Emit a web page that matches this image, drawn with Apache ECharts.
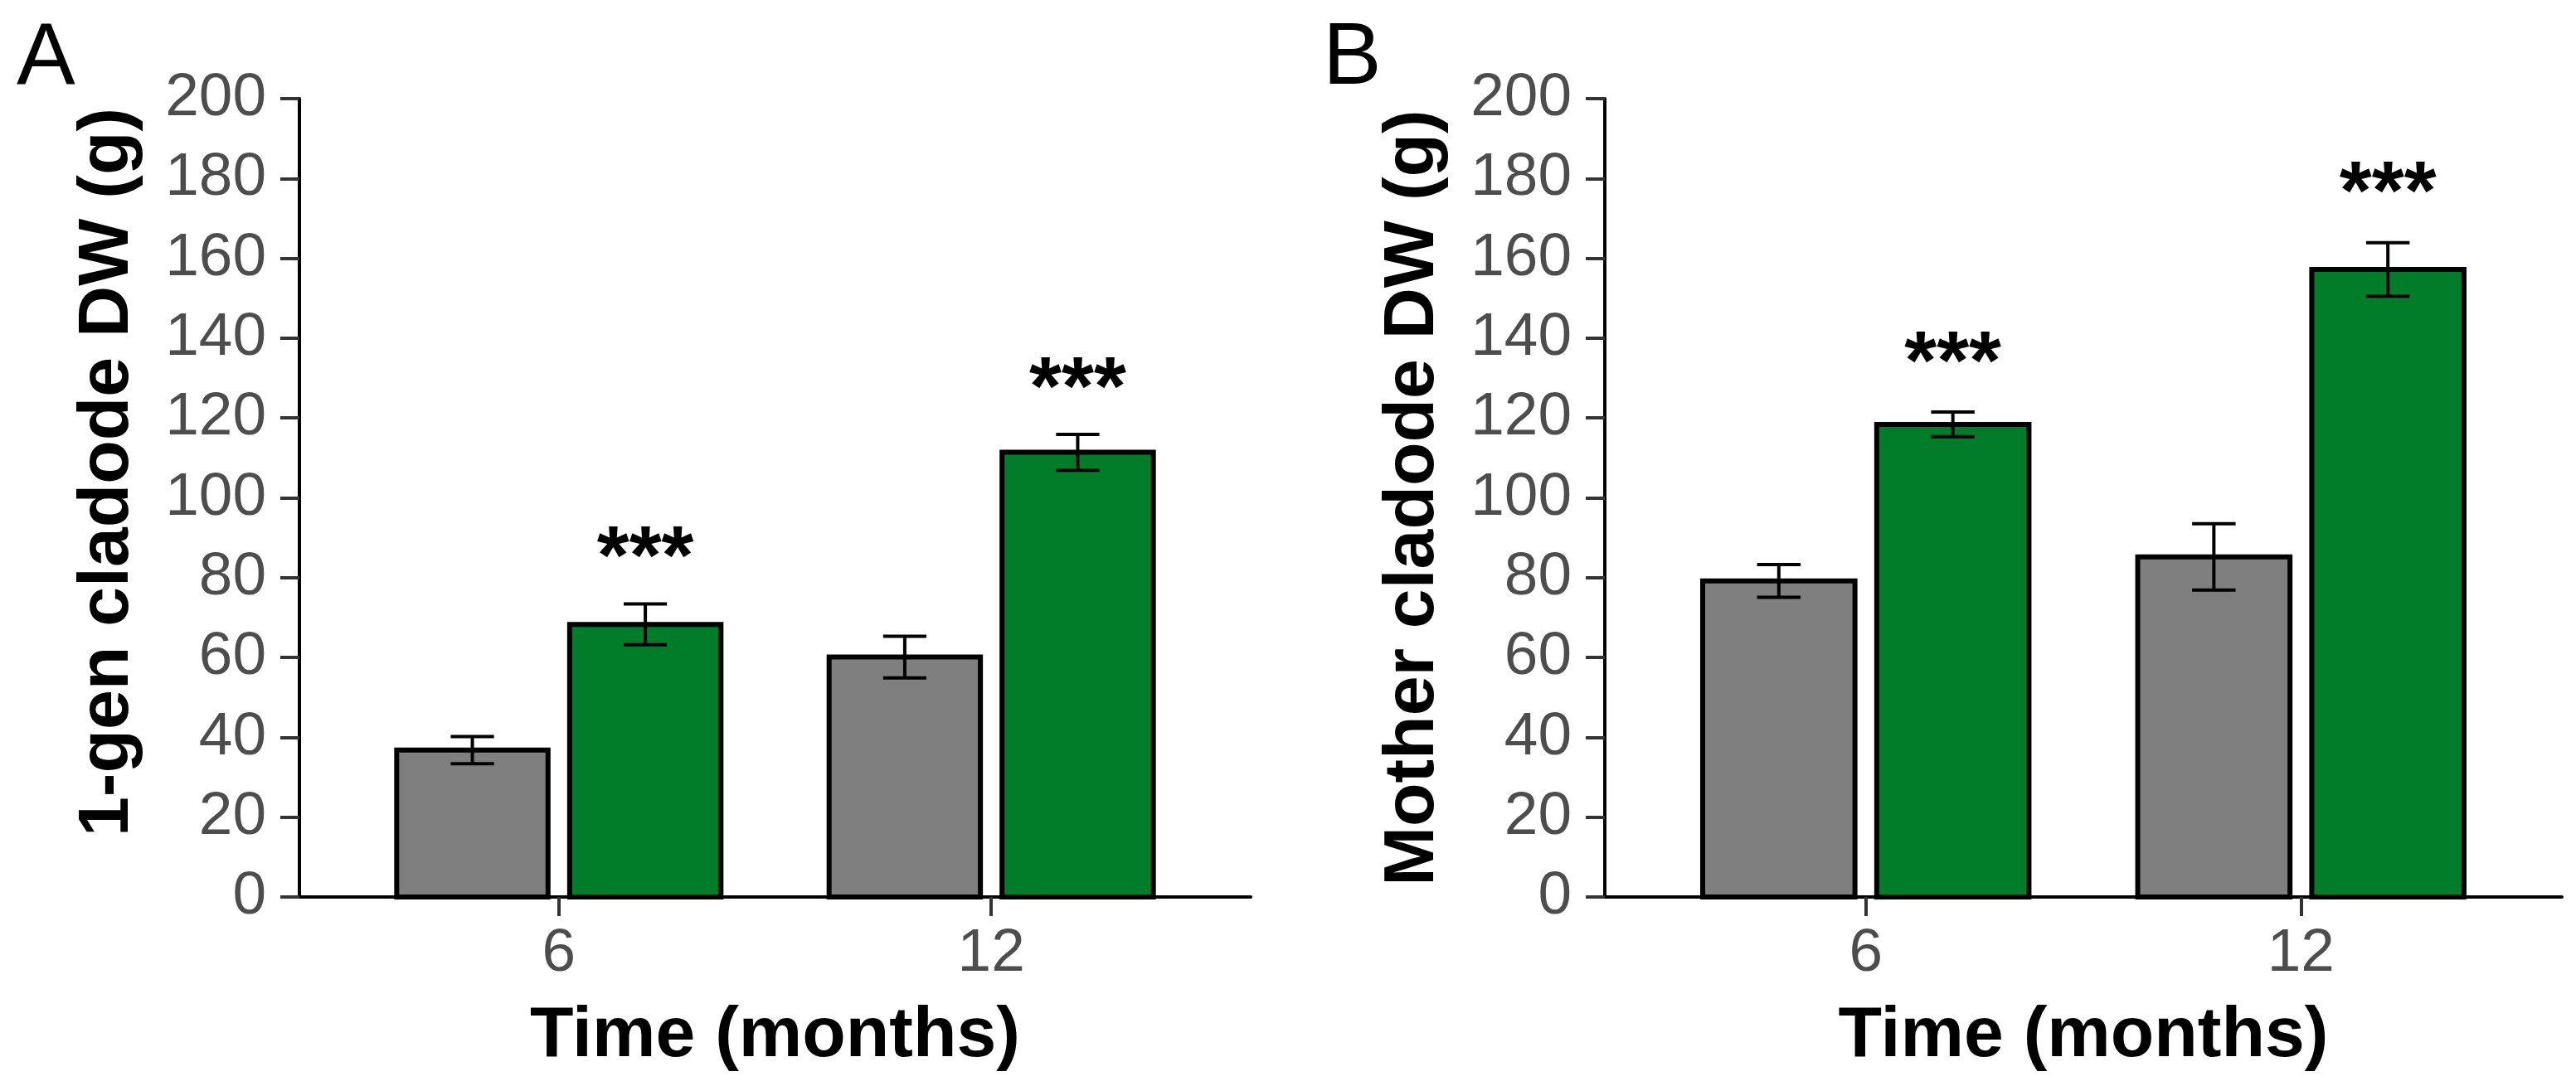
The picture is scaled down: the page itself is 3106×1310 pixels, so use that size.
<!DOCTYPE html>
<html>
<head>
<meta charset="utf-8">
<script src="https://cdn.jsdelivr.net/npm/echarts@6/dist/echarts.min.js"></script>
<style>
  html, body { margin: 0; background: #fff; }
  #chart { width: 3106px; height: 1310px; }
</style>
</head>
<body>
<div id="chart"></div>
<script>
// x categories (months) and their tick labels
const timeLabels = ['6', '12'];

// panel A: 1-gen cladode DW (g)
const genControl = [36.8, 60.1];
const genControlErr = [3.4, 5.2];
const genTreated = [68.3, 111.4];
const genTreatedErr = [5.1, 4.5];
const genStars = [88.6, 131.1];

// panel B: Mother cladode DW (g)
const motherControl = [79.2, 85.2];
const motherControlErr = [4.1, 8.3];
const motherTreated = [118.4, 157.2];
const motherTreatedErr = [3.1, 6.7];
const motherStars = [137.5, 180];

const FONT = 'Liberation Sans, Arial, sans-serif';
const GRAY = '#7f7f7f';
const GREEN = '#017c29';
const BAR_W = 0.35;   // in x units
const DODGE = 0.2;    // bar offset from group centre
const CAP_W = 0.1;

const toData = (vals, errs) => vals.map((v, i) => [i + 1, v, errs ? errs[i] : 0]);

function barSeries(grid, vals, errs, offset, color) {
    return {
        type: 'custom',
        xAxisIndex: grid, yAxisIndex: grid,
        encode: {x: 0, y: 1},
        clip: false,
        data: toData(vals, errs),
        renderItem: (params, api) => {
            const x = api.value(0) + offset;
            const p0 = api.coord([x - BAR_W / 2, api.value(1)]);
            const p1 = api.coord([x + BAR_W / 2, 0]);
            return {
                type: 'rect',
                shape: {x: p0[0], y: p0[1], width: p1[0] - p0[0], height: p1[1] - p0[1]},
                style: {fill: color, stroke: '#000', lineWidth: 6}
            };
        }
    };
}

function errSeries(grid, vals, errs, offset) {
    return {
        type: 'custom',
        xAxisIndex: grid, yAxisIndex: grid,
        encode: {x: 0, y: 1},
        clip: false,
        z: 5,
        data: toData(vals, errs),
        renderItem: (params, api) => {
            const x = api.value(0) + offset, v = api.value(1), e = api.value(2);
            const top = api.coord([x, v + e]);
            const bot = api.coord([x, v - e]);
            const half = api.size([CAP_W, 0])[0] / 2;
            const st = {stroke: '#000', lineWidth: 4};
            return {
                type: 'group',
                children: [
                    {type: 'line', shape: {x1: top[0], y1: top[1], x2: bot[0], y2: bot[1]}, style: st},
                    {type: 'line', shape: {x1: top[0] - half, y1: top[1], x2: top[0] + half, y2: top[1]}, style: st},
                    {type: 'line', shape: {x1: bot[0] - half, y1: bot[1], x2: bot[0] + half, y2: bot[1]}, style: st}
                ]
            };
        }
    };
}

function starSeries(grid, starVals, offset) {
    const size = 100;
    return {
        type: 'custom',
        xAxisIndex: grid, yAxisIndex: grid,
        encode: {x: 0, y: 1},
        clip: false,
        z: 6,
        data: toData(starVals),
        renderItem: (params, api) => {
            const p = api.coord([api.value(0) + offset, api.value(1)]);
            return {
                type: 'text',
                style: {
                    text: '***', x: p[0], y: p[1] + size * 0.215,
                    align: 'center', verticalAlign: 'middle',
                    font: 'bold ' + size + 'px ' + FONT, fill: '#000'
                }
            };
        }
    };
}

function xAxis(grid) {
    return {
        type: 'value', gridIndex: grid,
        min: 0.4, max: 2.6,
        name: 'Time (months)', nameLocation: 'middle', nameGap: 125,
        nameTextStyle: {fontFamily: FONT, fontSize: 86, fontWeight: 'bold', color: '#000'},
        axisLine: {show: true, lineStyle: {color: '#000', width: 4}},
        axisTick: {show: true, customValues: [1, 2], length: 23, lineStyle: {color: '#333', width: 4}},
        axisLabel: {
            customValues: [1, 2], margin: 32,
            fontFamily: FONT, fontSize: 73, color: '#4d4d4d',
            formatter: v => timeLabels[Math.round(v) - 1]
        },
        splitLine: {show: false}
    };
}

function yAxis(grid, title, pad) {
    return {
        type: 'value', gridIndex: grid,
        min: 0, max: 200, interval: 20,
        name: title, nameLocation: 'middle', nameGap: 188,
        nameTextStyle: {fontFamily: FONT, fontSize: 86, fontWeight: 'bold', color: '#000', padding: pad},
        axisLine: {show: true, lineStyle: {color: '#000', width: 4}},
        axisTick: {show: true, length: 23, lineStyle: {color: '#333', width: 4}},
        axisLabel: {margin: 40, fontFamily: FONT, fontSize: 73, color: '#4d4d4d'},
        splitLine: {show: false}
    };
}

const option = {
    backgroundColor: '#fff',
    animation: false,
    grid: [
        {left: 361, right: 1598, top: 119, bottom: 228},
        {left: 1935, right: 17, top: 119, bottom: 228}
    ],
    xAxis: [xAxis(0), xAxis(1)],
    yAxis: [
        yAxis(0, '1-gen cladode DW (g)', [0, 0, 0, 62]),
        yAxis(1, 'Mother cladode DW (g)', 0)
    ],
    graphic: [
        {type: 'text', left: 20, top: 19, style: {text: 'A', font: '106px ' + FONT, fill: '#000'}},
        {type: 'text', left: 1595, top: 19, style: {text: 'B', font: '106px ' + FONT, fill: '#000'}}
    ],
    series: [
        barSeries(0, genControl, genControlErr, -DODGE, GRAY),
        barSeries(0, genTreated, genTreatedErr, DODGE, GREEN),
        errSeries(0, genControl, genControlErr, -DODGE),
        errSeries(0, genTreated, genTreatedErr, DODGE),
        starSeries(0, genStars, DODGE),
        barSeries(1, motherControl, motherControlErr, -DODGE, GRAY),
        barSeries(1, motherTreated, motherTreatedErr, DODGE, GREEN),
        errSeries(1, motherControl, motherControlErr, -DODGE),
        errSeries(1, motherTreated, motherTreatedErr, DODGE),
        starSeries(1, motherStars, DODGE)
    ]
};

const chart = echarts.init(document.getElementById('chart'));
chart.setOption(option);
</script>
</body>
</html>
